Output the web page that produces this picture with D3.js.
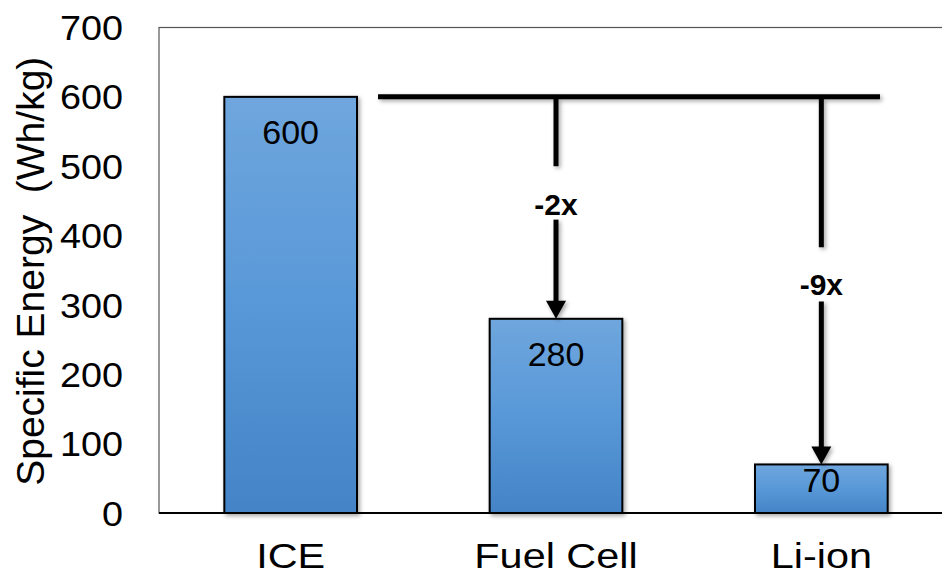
<!DOCTYPE html>
<html><head><meta charset="utf-8">
<script src="https://cdn.jsdelivr.net/npm/d3@7"></script>
<style>body{margin:0;background:#fff}svg{display:block}</style>
</head><body>
<svg id="c" width="942" height="574"></svg>
<script>
const categories = ["ICE", "Fuel Cell", "Li-ion"];
const values = [600, 280, 70];
const yTicks = [0, 100, 200, 300, 400, 500, 600, 700];
const yTitle = "Specific Energy\u00a0\u00a0(Wh/kg)";
const arrows = [{from: 600, to: 280, cat: "Fuel Cell", label: "-2x", gapTop: 500, gapBot: 423, labelAt: 445},
                {from: 600, to: 70, cat: "Li-ion", label: "-9x", gapTop: 383, gapBot: 305, labelAt: 329}];

const svg = d3.select("#c");
const F = "'Liberation Sans', Arial, sans-serif";
const y = d3.scaleLinear().domain([0, 700]).range([513, 27.5]);
const x = d3.scaleBand().domain(categories).range([158, 954]).paddingInner(0.5).paddingOuter(0.25);

const defs = svg.append("defs");
const g = defs.append("linearGradient").attr("id", "bg").attr("x1", 0).attr("y1", 0).attr("x2", 0).attr("y2", 1);
g.append("stop").attr("offset", 0).attr("stop-color", "#6fa6dd");
g.append("stop").attr("offset", 0.5).attr("stop-color", "#5898d8");
g.append("stop").attr("offset", 1).attr("stop-color", "#4484c6");
const f = defs.append("filter").attr("id", "sh").attr("x", "-20%").attr("y", "-20%").attr("width", "140%").attr("height", "140%");
f.append("feDropShadow").attr("dx", 2).attr("dy", 2).attr("stdDeviation", 2).attr("flood-color", "#000").attr("flood-opacity", 0.35);

// plot frame
svg.append("rect").attr("x", 159).attr("y", y(700)).attr("width", 800).attr("height", y(0) - y(700))
  .attr("fill", "none").attr("stroke", "#555").attr("stroke-width", 1.2);

// y axis labels
svg.append("g").selectAll("text").data(yTicks).join("text")
  .attr("transform", d => `translate(123,${y(d)}) scale(1.08,1)`)
  .attr("text-anchor", "end").attr("dy", "0.36em")
  .attr("font-family", F).attr("font-size", 35).attr("fill", "#000").text(d => d);

svg.append("text").attr("transform", `translate(44,${y(350) + 1}) rotate(-90)`).attr("text-anchor", "middle")
  .attr("font-family", F).attr("font-size", 39).attr("fill", "#000").text(yTitle);

// bars
svg.append("g").selectAll("rect").data(values).join("rect")
  .attr("x", (d, i) => x(categories[i])).attr("y", d => y(d))
  .attr("width", x.bandwidth()).attr("height", d => y(0) - y(d))
  .attr("fill", "url(#bg)").attr("stroke", "#000").attr("stroke-width", 2).attr("filter", "url(#sh)");

// x axis
svg.append("line").attr("x1", 159).attr("x2", 942).attr("y1", y(0)).attr("y2", y(0)).attr("stroke", "#000").attr("stroke-width", 2);
svg.append("g").selectAll("text").data(categories).join("text")
  .attr("transform", d => `translate(${x(d) + x.bandwidth() / 2},${y(0) + 55}) scale(1.15,1)`)
  .attr("text-anchor", "middle")
  .attr("font-family", F).attr("font-size", 36).attr("fill", "#000").text(d => d);

// value labels
svg.append("g").selectAll("text").data(values).join("text")
  .attr("x", (d, i) => x(categories[i]) + x.bandwidth() / 2)
  .attr("y", d => d > 150 ? y(d) + 47 : y(0) - 21)
  .attr("text-anchor", "middle").attr("font-family", F).attr("font-size", 34).attr("fill", "#000")
  .text(d => d);

// annotations
const ann = svg.append("g").attr("filter", "url(#sh)");
const cx = c => x(c) + x.bandwidth() / 2;
ann.append("line").attr("x1", 378).attr("x2", 880).attr("y1", y(600)).attr("y2", y(600))
  .attr("stroke", "#000").attr("stroke-width", 5);
arrows.forEach(a => {
  const xx = cx(a.cat);
  ann.append("line").attr("x1", xx).attr("x2", xx).attr("y1", y(a.from)).attr("y2", y(a.gapTop))
    .attr("stroke", "#000").attr("stroke-width", 5);
  ann.append("line").attr("x1", xx).attr("x2", xx).attr("y1", y(a.gapBot)).attr("y2", y(a.to) - 15)
    .attr("stroke", "#000").attr("stroke-width", 5);
  const ty = y(a.to);
  ann.append("path").attr("d", `M${xx - 10},${ty - 18} L${xx + 10},${ty - 18} L${xx},${ty} Z`).attr("fill", "#000");
  svg.append("text").attr("x", xx).attr("y", y(a.labelAt)).attr("dy", "0.35em").attr("text-anchor", "middle")
    .attr("font-family", F).attr("font-weight", "bold").attr("font-size", 30).attr("fill", "#000").text(a.label);
});
</script>
</body></html>
